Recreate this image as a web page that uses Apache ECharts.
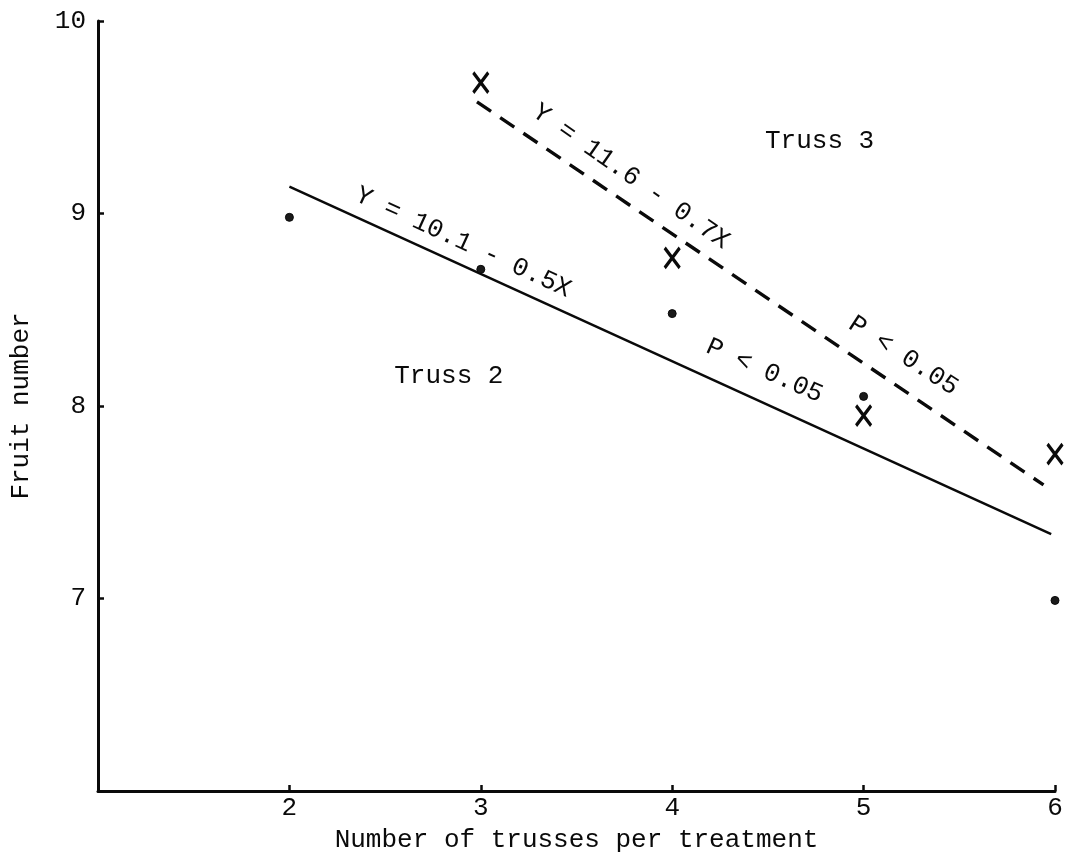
<!DOCTYPE html>
<html>
<head>
<meta charset="utf-8">
<script src="https://cdn.jsdelivr.net/npm/echarts@6/dist/echarts.min.js"></script>
<style>
  html, body { margin: 0; padding: 0; background: #ffffff; }
  #chart { width: 1066px; height: 858px; }
</style>
</head>
<body>
<div id="chart"></div>
<script>
// Mean fruit number against number of trusses per treatment
const truss2X = [2, 3, 4, 5, 6];
const truss2Y = [8.98, 8.71, 8.48, 8.05, 6.99];
const truss3X = [3, 4, 5, 6];
const truss3Y = [9.68, 8.77, 7.95, 7.75];

// Fitted regression lines (end points as drawn)
const fit2X = [2, 5.98];
const fit2Y = [9.14, 7.335];
const fit3X = [2.98, 5.94];
const fit3Y = [9.58, 7.59];

// Labelled ticks
const xTickLabels = [2, 3, 4, 5, 6];
const yTickLabels = [7, 8, 9, 10];

// Text annotations placed in data space
const annotationText = ['Y = 10.1 - 0.5X', 'Y = 11.6 - 0.7X', 'P < 0.05', 'P < 0.05', 'Truss 3', 'Truss 2'];
const annotationX = [2.908, 3.784, 4.483, 5.208, 4.770, 2.833];
const annotationY = [8.850, 9.192, 8.183, 8.261, 9.378, 8.157];
const annotationAngle = [-24.5, -35, -24, -33, 0, 0];

const INK = '#0a0a0a';
const FONT = '"Liberation Mono", "DejaVu Sans Mono", monospace';
const TEXT = { fontFamily: FONT, fontSize: 26, color: INK, fontWeight: 'normal' };

const zip = (xs, ys) => xs.map((x, i) => [x, ys[i]]);

const chart = echarts.init(document.getElementById('chart'), null, { renderer: 'canvas' });

const axisCommon = {
  type: 'value',
  interval: 1,
  splitLine: { show: false },
  axisLine: { show: true, onZero: false, lineStyle: { color: INK, width: 3 } },
  axisTick: { show: true, inside: true, length: 6, lineStyle: { color: INK, width: 2.5 } },
  nameTextStyle: Object.assign({}, TEXT),
  nameLocation: 'middle'
};

chart.setOption({
  backgroundColor: '#ffffff',
  animation: false,
  grid: { left: 96, right: 11, top: 21, bottom: 64, containLabel: false },
  xAxis: Object.assign({}, axisCommon, {
    min: 1, max: 6,
    name: 'Number of trusses per treatment',
    nameGap: 36,
    axisLabel: Object.assign({}, TEXT, {
      margin: 4,
      formatter: v => (xTickLabels.indexOf(v) >= 0 ? String(v) : '')
    })
  }),
  yAxis: Object.assign({}, axisCommon, {
    min: 6, max: 10,
    name: 'Fruit number',
    nameGap: 64,
    axisLabel: Object.assign({}, TEXT, {
      margin: 12,
      formatter: v => (yTickLabels.indexOf(v) >= 0 ? String(v) : '')
    })
  }),
  series: [
    {
      name: 'Truss 2 fit',
      type: 'line',
      data: zip(fit2X, fit2Y),
      symbol: 'none',
      lineStyle: { color: INK, width: 2.5 },
      z: 2
    },
    {
      name: 'Truss 3 fit',
      type: 'line',
      data: zip(fit3X, fit3Y),
      symbol: 'none',
      lineStyle: { color: INK, width: 3.4, type: [17, 11] },
      z: 2
    },
    {
      name: 'Truss 2',
      type: 'scatter',
      data: zip(truss2X, truss2Y),
      symbol: 'circle',
      symbolSize: 8,
      itemStyle: { color: '#1a1a1a', borderColor: INK, borderWidth: 1, opacity: 1 },
      z: 3
    },
    {
      name: 'Truss 3',
      type: 'scatter',
      data: zip(truss3X, truss3Y),
      symbol: 'path://M0,0L16,20M16,0L0,20',
      symbolSize: [15, 20],
      itemStyle: { color: 'none', borderColor: INK, borderWidth: 3.4, opacity: 1 },
      z: 3
    },
    {
      name: 'annotations',
      type: 'scatter',
      symbolSize: 0,
      silent: true,
      itemStyle: { opacity: 1 },
      data: annotationText.map((t, i) => ({
        value: [annotationX[i], annotationY[i]],
        label: { formatter: t, rotate: annotationAngle[i] }
      })),
      label: Object.assign({}, TEXT, {
        show: true,
        position: 'inside',
        opacity: 1
      }),
      z: 4
    }
  ]
});
</script>
</body>
</html>
